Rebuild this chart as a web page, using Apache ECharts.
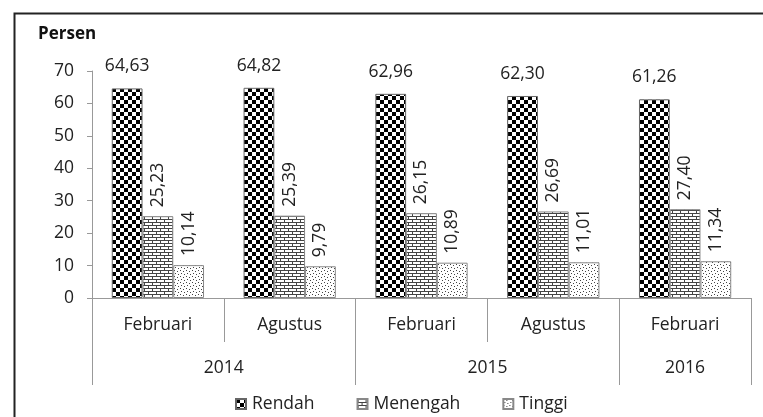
<!DOCTYPE html>
<html><head><meta charset="utf-8">
<script src="https://cdn.jsdelivr.net/npm/echarts@6/dist/echarts.min.js"></script>
<style>html,body{margin:0;padding:0;background:#fff}#c{width:763px;height:417px}</style>
</head><body><div id="c"></div>
<script>
var periods = ['Februari', 'Agustus', 'Februari', 'Agustus', 'Februari'];
var years = ['2014', '2015', '2016'];
var yearSpans = [2, 2, 1];
var rendah = [64.63, 64.82, 62.96, 62.30, 61.26];
var menengah = [25.23, 25.39, 26.15, 26.69, 27.40];
var tinggi = [10.14, 9.79, 10.89, 11.01, 11.34];
var seriesNames = ['Rendah', 'Menengah', 'Tinggi'];
var yTicks = [0, 10, 20, 30, 40, 50, 60, 70];

var FONT = 'Open Sans';
var FS = 17.5;
function tile(w, h, draw) {
  var c = document.createElement('canvas'); c.width = w; c.height = h;
  var g = c.getContext('2d'); g.fillStyle = '#fff'; g.fillRect(0, 0, w, h); draw(g); return c;
}
var checker = tile(8, 8, function (g) { g.fillStyle = '#000'; g.fillRect(0, 0, 4, 4); g.fillRect(4, 4, 4, 4); });
var brick = tile(8, 6, function (g) {
  g.fillStyle = '#444'; g.fillRect(0, 0, 8, 1); g.fillRect(0, 3, 8, 1);
  g.fillRect(0, 0, 1, 3); g.fillRect(4, 3, 1, 3);
});
var dots = tile(6, 6, function (g) {
  g.fillStyle = '#444'; g.fillRect(0, 0, 1, 1); g.fillRect(3, 1, 1, 1); g.fillRect(1, 3, 1, 1); g.fillRect(4, 4, 1, 1);
});
var fills = [checker, brick, dots];

// year axis: half-step points across the category range
var totalCats = yearSpans.reduce(function (a, b) { return a + b; }, 0);
var yearAxisData = []; for (var i = 0; i <= totalCats * 2; i++) yearAxisData.push('');
var yearTickIdx = {0: true}; var pos = 0;
years.forEach(function (y, k) {
  yearAxisData[pos * 2 + yearSpans[k]] = y; pos += yearSpans[k]; yearTickIdx[pos * 2] = true;
});

var fmt = function (p) { return p.value.toFixed(2).replace('.', ','); };
var chart = echarts.init(document.getElementById('c'));
var data = [rendah, menengah, tinggi];
chart.setOption({
  animation: false,
  textStyle: {fontFamily: FONT},
  title: {text: 'Persen', left: 33, top: 21, textStyle: {fontFamily: FONT, fontSize: 17, fontWeight: 'bold', color: '#111'}},
  graphic: [{type: 'rect', left: 12, top: 11, shape: {width: 770, height: 430}, style: {fill: 'none', stroke: '#222', lineWidth: 2}}],
  legend: {
    bottom: -1, left: 230, itemWidth: 10, itemHeight: 10, itemGap: 42,
    icon: 'rect',
    textStyle: {fontFamily: FONT, fontSize: FS, color: '#222', padding: [0, 0, 0, 1]},
    data: seriesNames
  },
  grid: {left: 92, right: 12, top: 71, bottom: 119},
  xAxis: [{
    type: 'category', data: periods, position: 'bottom',
    axisLine: {lineStyle: {color: '#999'}},
    axisTick: {show: true, interval: 0, length: 44, lineStyle: {color: '#999'}},
    axisLabel: {interval: 0, margin: 18, fontSize: FS, color: '#222', fontFamily: FONT}
  }, {
    type: 'category', data: yearAxisData, boundaryGap: false, position: 'bottom',
    axisLine: {show: false},
    axisTick: {show: true, length: 87, lineStyle: {color: '#999'}, interval: function (idx) { return !!yearTickIdx[idx]; }},
    axisLabel: {interval: 0, margin: 61, fontSize: FS, color: '#222', fontFamily: FONT}
  }],
  yAxis: {
    type: 'value', min: yTicks[0], max: yTicks[yTicks.length - 1], interval: 10,
    splitLine: {show: false},
    axisLine: {show: true, lineStyle: {color: '#999'}},
    axisTick: {show: true, length: 5, lineStyle: {color: '#999'}},
    axisLabel: {margin: 18, fontSize: FS, color: '#222', fontFamily: FONT}
  },
  series: seriesNames.map(function (n, k) {
    return {
      name: n, type: 'bar', data: data[k], barGap: '0%', barCategoryGap: '30%',
      itemStyle: {color: {image: fills[k], repeat: 'repeat'}, borderColor: k === 0 ? '#666' : '#888', borderWidth: 1},
      label: k === 0 ? {show: true, position: 'top', distance: 13, fontSize: FS, color: '#222', fontFamily: FONT, formatter: fmt}
        : {show: true, position: 'top', distance: 9, rotate: 90, align: 'left', verticalAlign: 'middle', fontSize: FS, color: '#222', fontFamily: FONT, formatter: fmt}
    };
  })
});
</script></body></html>
